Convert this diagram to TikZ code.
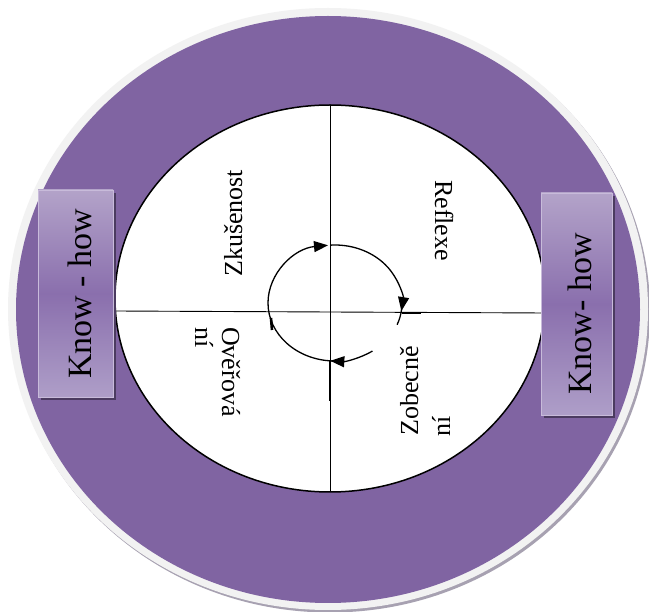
\documentclass[tikz,border=0pt]{standalone}
\usepackage{fontspec}
\setmainfont{Liberation Serif}
\usetikzlibrary{arrows.meta}
\definecolor{ringpurple}{HTML}{8064A2}
\definecolor{ringborder}{HTML}{F2F2F2}
\definecolor{ringshadow}{HTML}{A7A1B1}
\definecolor{boxtop}{HTML}{B3A3C9}
\definecolor{boxmid}{HTML}{8A6FAD}
\definecolor{boxbot}{HTML}{AE9EC8}
\definecolor{boxline}{HTML}{C8BBDA}
\definecolor{boxshadow}{HTML}{4B3B60}
\tikzset{
  kh/.style={font=\fontsize{34}{40}\selectfont, rotate=90, inner sep=0pt},
  phase/.style={font=\fontsize{26}{30}\selectfont, inner sep=0pt, anchor=base west},
  cyc/.style={line width=1.3pt, -{Triangle[length=14pt,width=11pt]}},
  cycplain/.style={line width=1.3pt},
  khbox/.style={top color=boxtop, bottom color=boxbot, middle color=boxmid, draw=boxline, line width=0.6pt},
}
\begin{document}
\begin{tikzpicture}[x=1pt,y=-1pt]
\useasboundingbox (0,0) rectangle (649,612);
\fill[white] (0,0) rectangle (649,612);
% outer ring
\fill[ringshadow] (330,311.5) ellipse [x radius=320, y radius=301];
\fill[ringborder] (328,309) ellipse [x radius=320, y radius=301];
\fill[ringpurple] (328,309.5) ellipse [x radius=312, y radius=293.5];
% inner disc
\draw[line width=1.5pt, fill=white] (330,298.5) ellipse [x radius=215, y radius=193.5];
\coordinate (vtop) at (330,105);
\coordinate (vbot) at (330,492);
\coordinate (hleft) at (115,311);
\coordinate (hright) at (545,313);
\draw[line width=0.9pt] (vtop) -- (vbot);
\draw[line width=0.9pt] (hleft) -- (hright);
% cycle arrows
\coordinate (cc) at (335,303);
\draw[cyc] ([shift={(180:67 and 58)}]cc) arc[start angle=180, end angle=264, x radius=67, y radius=58];
\draw[cyc] ([shift={(266:67 and 58)}]cc) arc[start angle=266, end angle=368, x radius=67, y radius=58];
\draw[cycplain] ([shift={(366:67 and 58)}]cc) arc[start angle=366, end angle=382, x radius=67, y radius=58];
\draw[cyc] ([shift={(56:67 and 58)}]cc) arc[start angle=56, end angle=94, x radius=67, y radius=58];
\draw[cycplain] ([shift={(92:67 and 58)}]cc) arc[start angle=92, end angle=180, x radius=67, y radius=58];
\coordinate (t1a) at (402,313);
\coordinate (t1b) at (421,313);
\coordinate (t2a) at (330,360);
\coordinate (t2b) at (330,401);
\coordinate (t3a) at (271,318);
\coordinate (t3b) at (272,330);
\draw[line width=2.2pt] (t1a) -- (t1b);
\draw[line width=2.4pt] (t2a) -- (t2b);
\draw[line width=2.6pt] (t3a) -- (t3b);
% phase labels
\node[phase, rotate=90] (zk) at (242,277) {Zkušenost};
\node[phase, rotate=-90] (re) at (435,180) {Reflexe};
\node[phase, rotate=-90] (ov1) at (222,327) {Ověřová};
\node[phase, rotate=-90] (ov2) at (195,327) {ní};
\node[phase, rotate=90] (zo1) at (418,436) {Zobecně};
\node[phase, rotate=90] (zo2) at (450,437) {ní};
% know-how boxes
\fill[boxshadow] (41,193) rectangle (116,400);
\shade[khbox] (38,190) rectangle (113,397);
\node[kh] (khl) at (80,294) {Know - how};
\fill[boxshadow] (544,196) rectangle (615,418);
\shade[khbox] (541,193) rectangle (612,415);
\node[kh] (khr) at (580,314) {Know- how};
\end{tikzpicture}
\end{document}
